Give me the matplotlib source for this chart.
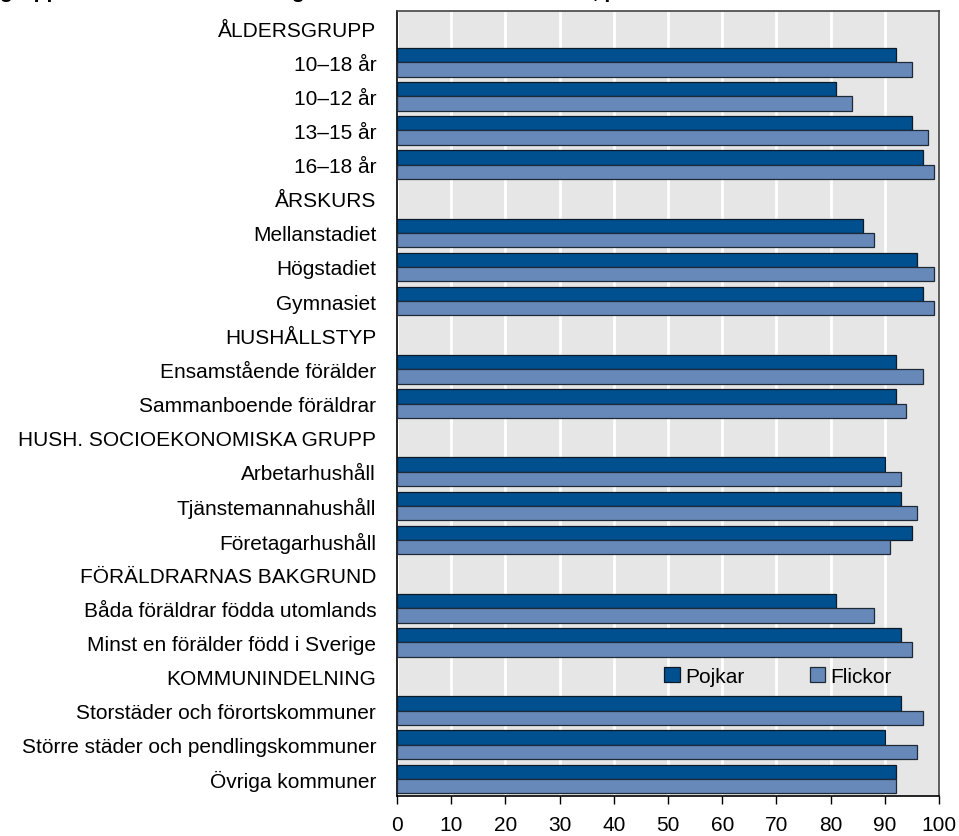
import matplotlib.pyplot as plt
import numpy as np

plt.rcParams['font.family'] = ['Liberation Sans', 'DejaVu Sans']

labels = ['ÅLDERSGRUPP', '10–18 år', '10–12 år', '13–15 år', '16–18 år',
          'ÅRSKURS', 'Mellanstadiet', 'Högstadiet', 'Gymnasiet',
          'HUSHÅLLSTYP', 'Ensamstående förälder', 'Sammanboende föräldrar',
          'HUSH. SOCIOEKONOMISKA GRUPP', 'Arbetarhushåll', 'Tjänstemannahushåll', 'Företagarhushåll',
          'FÖRÄLDRARNAS BAKGRUND', 'Båda föräldrar födda utomlands', 'Minst en förälder född i Sverige',
          'KOMMUNINDELNING', 'Storstäder och förortskommuner', 'Större städer och pendlingskommuner',
          'Övriga kommuner']
# None = header row without bars
pojkar = [None, 92, 81, 95, 97,
          None, 86, 96, 97,
          None, 92, 92,
          None, 90, 93, 95,
          None, 81, 93,
          None, 93, 90, 92]
flickor = [None, 95, 84, 98, 99,
           None, 88, 99, 99,
           None, 97, 94,
           None, 93, 96, 91,
           None, 88, 95,
           None, 97, 96, 92]

fig = plt.figure(figsize=(9.59, 8.37), dpi=100)
ax = fig.add_axes([397 / 959, 1 - 797 / 837, 542 / 959, 785 / 837])
ax.set_facecolor('#e6e6e6')

y = np.arange(len(labels))
h = 0.42
pm = np.array([v is not None for v in pojkar])
pv = np.array([v if v is not None else 0 for v in pojkar])
fv = np.array([v if v is not None else 0 for v in flickor])
ax.barh(y[pm] - h / 2, pv[pm], height=h, color='#004f8f', edgecolor='#0d1a2a',
        linewidth=0.9, label='Pojkar', zorder=3)
ax.barh(y[pm] + h / 2, fv[pm], height=h, color='#6789b9', edgecolor='#1f2a38',
        linewidth=0.9, label='Flickor', zorder=3)

ax.set_xlim(0, 100)
ax.set_ylim(len(labels) - 0.5, -0.5)
ax.set_xticks(range(0, 101, 10))
ax.set_yticks(y)
ax.set_yticklabels(labels)
ax.tick_params(axis='y', length=0, pad=15, labelsize=15)
ax.tick_params(axis='x', length=6, width=1, labelsize=15, pad=8, direction='out')
ax.grid(axis='x', color='white', linewidth=2, zorder=1)
ax.set_axisbelow(True)
for s in ['left', 'bottom']:
    ax.spines[s].set_color('black')
    ax.spines[s].set_linewidth(1.2)
for s in ['top', 'right']:
    ax.spines[s].set_color('#444444')
    ax.spines[s].set_linewidth(1.2)

ax.legend(loc='center', bbox_to_anchor=(0.703, 1 - 19.5 / 23), ncol=2, frameon=False,
          fontsize=15, handlelength=0.75, handleheight=0.75, handletextpad=0.25,
          columnspacing=3.15)

# title, cut off at the top edge of the picture
fig.text(0.0, 1 + 1.5 / 837, 'grupp samt kön. Andel med egen dator i hemmet under året, procent',
         fontsize=15, fontweight='bold', ha='left', va='baseline')

fig.savefig('out.png', dpi=100)
